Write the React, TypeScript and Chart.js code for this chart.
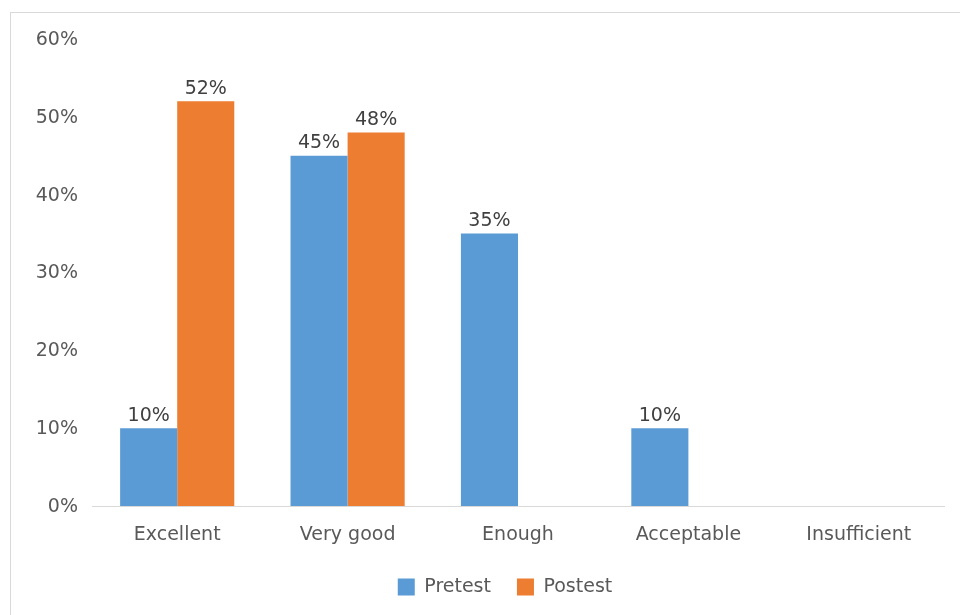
import React, { useEffect, useRef } from "react";
import { Chart, registerables } from "chart.js";

Chart.register(...registerables);

const categories = ["Excellent", "Very good", "Enough", "Acceptable", "Insufficient"];
const pretest: (number | null)[] = [10, 45, 35, 10, null];
const postest: (number | null)[] = [52, 48, null, null, null];
const yTicks = [0, 10, 20, 30, 40, 50, 60];

const FONT = "'DejaVu Sans', sans-serif";
const SIZE = 19;
const TEXT = "#595959";

// Writes the percentage above each bar
const valueLabels = {
  id: "valueLabels",
  afterDatasetsDraw(chart: any) {
    const { ctx } = chart;
    ctx.save();
    ctx.font = `${SIZE}px ${FONT}`;
    ctx.fillStyle = "#404040";
    ctx.textAlign = "center";
    ctx.textBaseline = "bottom";
    chart.data.datasets.forEach((ds: any, di: number) => {
      const meta = chart.getDatasetMeta(di);
      meta.data.forEach((bar: any, i: number) => {
        const v = ds.data[i];
        if (v === null || v === undefined) return;
        ctx.fillText(`${v}%`, bar.x, bar.y - 3);
      });
    });
    ctx.restore();
  },
};

// Percentage labels of the value axis, drawn left of the plot area
const yAxisLabels = {
  id: "yAxisLabels",
  afterDraw(chart: any) {
    const { ctx, chartArea } = chart;
    const y = chart.scales.y;
    ctx.save();
    ctx.font = `${SIZE}px ${FONT}`;
    ctx.fillStyle = TEXT;
    ctx.textAlign = "right";
    ctx.textBaseline = "middle";
    y.ticks.forEach((t: any) => {
      ctx.fillText(`${t.value}%`, chartArea.left - 14, y.getPixelForValue(t.value) + 1);
    });
    ctx.restore();
  },
};

export default function App() {
  const ref = useRef<HTMLCanvasElement>(null);

  useEffect(() => {
    if (!ref.current) return;
    const chart = new Chart(ref.current, {
      type: "bar",
      data: {
        labels: categories,
        datasets: [
          { label: "Pretest", data: pretest, backgroundColor: "#5B9BD5" },
          { label: "Postest", data: postest, backgroundColor: "#ED7D31" },
        ],
      },
      options: {
        animation: false,
        responsive: false,
        // the chart box is wider than the view; side padding keeps the legend centred on it
        layout: { padding: { top: 26, right: 55, bottom: 8.5, left: 55 } },
        datasets: { bar: { barPercentage: 1, categoryPercentage: 0.67 } },
        scales: {
          x: {
            grid: { display: true, color: "rgba(0,0,0,0)", drawTicks: false },
            border: { display: true, color: "#d9d9d9", width: 1 },
            ticks: { color: TEXT, font: { family: FONT, size: SIZE }, padding: 18 },
            afterFit(scale: any) {
              scale.height = 45.5;
            },
          },
          y: {
            min: 0,
            max: 60,
            grid: { display: false },
            border: { display: false },
            afterBuildTicks(scale: any) {
              scale.ticks = yTicks.map((v) => ({ value: v }));
            },
            ticks: { display: false },
            afterFit(scale: any) {
              scale.width = 26;
            },
          },
        },
        plugins: {
          legend: {
            position: "bottom",
            labels: {
              color: TEXT,
              font: { family: FONT, size: SIZE },
              boxWidth: 17,
              boxHeight: 17,
              padding: 26,
            },
          },
          tooltip: { enabled: false },
        },
      },
      plugins: [valueLabels, yAxisLabels],
    });
    return () => chart.destroy();
  }, []);

  return (
    <div style={{ position: "fixed", left: 0, top: 0, right: 0, bottom: 0, overflow: "hidden", background: "#fff" }}>
      <div
        style={{
          position: "absolute",
          left: 10,
          top: 12,
          width: 988,
          height: 620,
          border: "1px solid #d9d9d9",
          background: "#fff",
        }}
      >
        <canvas ref={ref} width={988} height={602} style={{ display: "block" }} />
      </div>
    </div>
  );
}
